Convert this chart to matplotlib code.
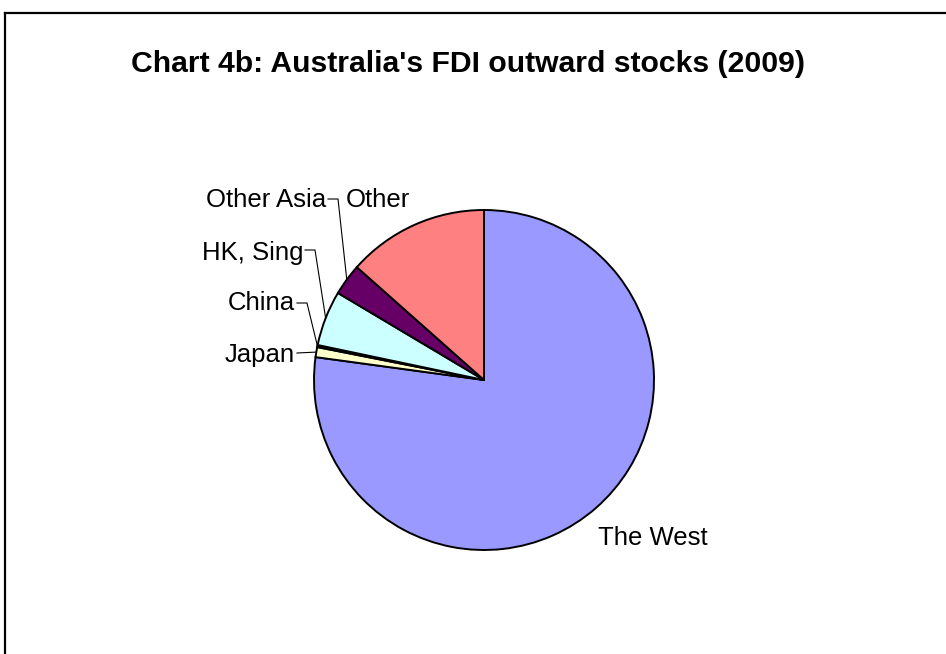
import numpy as np
import matplotlib.pyplot as plt
from matplotlib.lines import Line2D

plt.rcParams['font.family'] = ['Liberation Sans', 'DejaVu Sans']

# slices, clockwise from 12 o'clock
regions = ['The West', 'Japan', 'China', 'HK, Sing', 'Other Asia', 'Other']
shares = [77.15, 0.95, 0.2, 5.25, 3.0, 13.45]
colours = ['#9999FF', '#FFFFCC', '#993366', '#CCFFFF', '#660066', '#FF8080']

W, H = 946, 654


def Y(y):
    # image-style y (from top) to axis y
    return H - y


fig = plt.figure(figsize=(W / 100, H / 100), dpi=100)
ax = fig.add_axes([0, 0, 1, 1])
ax.set_xlim(0, W)
ax.set_ylim(0, H)
ax.set_aspect('equal')
ax.axis('off')

cx, cy, r = 484, Y(380), 170
wedges, _ = ax.pie(shares, colors=colours, startangle=90, counterclock=False,
                   center=(cx, cy), radius=r,
                   wedgeprops=dict(edgecolor='black', linewidth=1.4))
ax.set_xlim(0, W)
ax.set_ylim(0, H)


def edge_point(w):
    a = np.deg2rad((w.theta1 + w.theta2) / 2)
    return cx + r * np.cos(a), cy + r * np.sin(a)


fs = 18.5
# label text: (x, baseline, ha, leader knee)
labels = {
    'The West': (598, 545, 'left', None),
    'Japan': (295, 362, 'right', (297, 353)),
    'China': (295, 310, 'right', (297, 303)),
    'HK, Sing': (303, 260, 'right', (305, 250)),
    'Other Asia': (326, 207, 'right', (328, 199)),
    'Other': (346, 207, 'left', None),
}
for name, w in zip(regions, wedges):
    x, yb, ha, knee = labels[name]
    ax.text(x, Y(yb), name, fontsize=fs, ha=ha, va='baseline')
    if knee is not None:
        px, py = edge_point(w)
        kx, ky = knee
        xs = [kx, kx + 10, px]
        ys = [Y(ky), Y(ky), py]
        if name == 'Japan':
            xs = [kx, px]
            ys = [Y(ky), py]
        ax.plot(xs, ys, color='black', lw=0.8)

ax.text(468, Y(72), "Chart 4b: Australia's FDI outward stocks (2009)",
        fontsize=21.7, fontweight='bold', ha='center', va='baseline')

# outer frame (runs off the right and bottom)
fig.add_artist(Line2D([5 / W, 5 / W], [0, 1 - 13 / H], color='black', lw=1.6))
fig.add_artist(Line2D([5 / W, 1], [1 - 13 / H, 1 - 13 / H], color='black', lw=1.6))

fig.savefig('out.png', dpi=100)
